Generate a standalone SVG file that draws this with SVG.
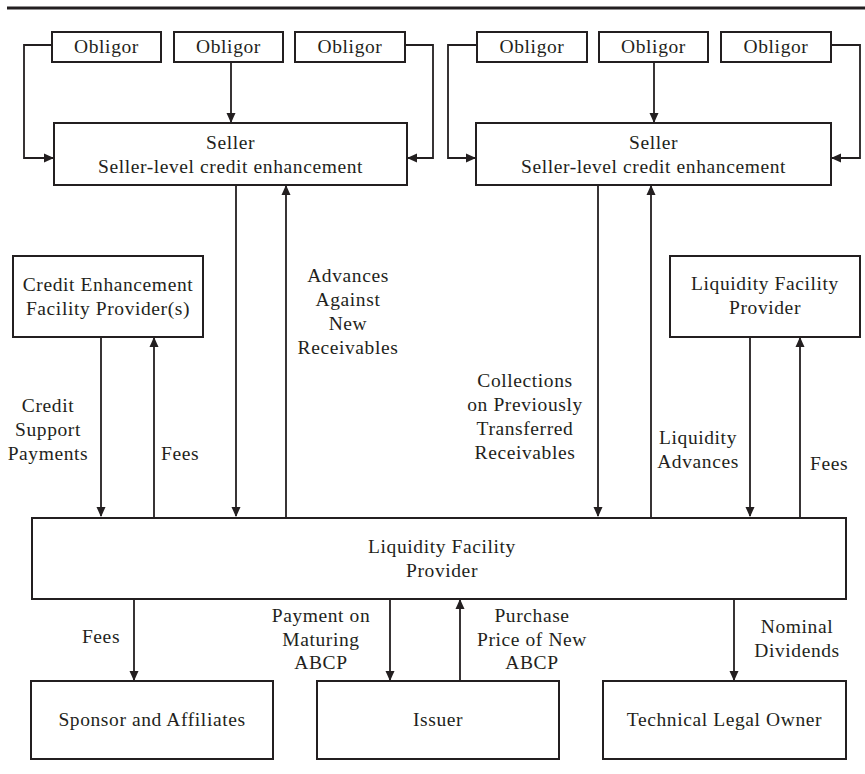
<svg xmlns="http://www.w3.org/2000/svg" width="865" height="774" viewBox="0 0 865 774">
<style>
.box{fill:#fff;stroke:#231f20;stroke-width:2}
.ln{fill:none;stroke:#231f20;stroke-width:1.8}
text{font-family:"Liberation Serif","DejaVu Serif",serif;font-size:19.5px;letter-spacing:0.6px;fill:#231f20;text-anchor:middle}
.l{text-anchor:start}
</style>
<defs>
<marker id="ah" markerWidth="10" markerHeight="10" refX="9" refY="5" orient="auto" markerUnits="userSpaceOnUse">
<path d="M0,0.5 L10,5 L0,9.5 Z" fill="#231f20"/>
</marker>
</defs>
<line x1="7" y1="8" x2="865" y2="8" stroke="#231f20" stroke-width="3"/>
<g id="connectors">
<path class="ln" d="M52,45 H24 V158 H53" marker-end="url(#ah)"/>
<path class="ln" d="M405,45 H433 V158 H408" marker-end="url(#ah)"/>
<path class="ln" d="M231,62 V122" marker-end="url(#ah)"/>
<path class="ln" d="M477,45 H448 V158 H475" marker-end="url(#ah)"/>
<path class="ln" d="M831,45 H860 V158 H832" marker-end="url(#ah)"/>
<path class="ln" d="M654,62 V122" marker-end="url(#ah)"/>
<path class="ln" d="M236,185 V516" marker-end="url(#ah)"/>
<path class="ln" d="M286,518 V186" marker-end="url(#ah)"/>
<path class="ln" d="M101,337 V516" marker-end="url(#ah)"/>
<path class="ln" d="M154,518 V338" marker-end="url(#ah)"/>
<path class="ln" d="M598,185 V516" marker-end="url(#ah)"/>
<path class="ln" d="M651,518 V186" marker-end="url(#ah)"/>
<path class="ln" d="M750,337 V516" marker-end="url(#ah)"/>
<path class="ln" d="M800,518 V338" marker-end="url(#ah)"/>
<path class="ln" d="M134,599 V680" marker-end="url(#ah)"/>
<path class="ln" d="M390,599 V680" marker-end="url(#ah)"/>
<path class="ln" d="M460,681 V600" marker-end="url(#ah)"/>
<path class="ln" d="M734,599 V680" marker-end="url(#ah)"/>
</g>
<g id="labels">
<text x="348" y="282">Advances</text>
<text x="348" y="306">Against</text>
<text x="348" y="330">New</text>
<text x="348" y="354">Receivables</text>
<text x="48" y="412">Credit</text>
<text x="48" y="436">Support</text>
<text x="48" y="460">Payments</text>
<text class="l" x="161" y="460">Fees</text>
<text x="525" y="387">Collections</text>
<text x="525" y="411">on Previously</text>
<text x="525" y="435">Transferred</text>
<text x="525" y="459">Receivables</text>
<text x="698" y="444">Liquidity</text>
<text x="698" y="468">Advances</text>
<text class="l" x="810" y="470">Fees</text>
<text x="101" y="643">Fees</text>
<text x="321" y="622">Payment on</text>
<text x="321" y="646">Maturing</text>
<text x="321" y="669">ABCP</text>
<text x="532" y="622">Purchase</text>
<text x="532" y="646">Price of New</text>
<text x="532" y="669">ABCP</text>
<text x="797" y="633">Nominal</text>
<text x="797" y="657">Dividends</text>
</g>
<g id="obligor-l1"><rect class="box" x="52" y="32" width="109" height="30"/><text x="106.5" y="53">Obligor</text></g>
<g id="obligor-l2"><rect class="box" x="174" y="32" width="109" height="30"/><text x="228.5" y="53">Obligor</text></g>
<g id="obligor-l3"><rect class="box" x="295" y="32" width="110" height="30"/><text x="350" y="53">Obligor</text></g>
<g id="obligor-r1"><rect class="box" x="477" y="32" width="110" height="30"/><text x="532" y="53">Obligor</text></g>
<g id="obligor-r2"><rect class="box" x="599" y="32" width="109" height="30"/><text x="653.5" y="53">Obligor</text></g>
<g id="obligor-r3"><rect class="box" x="721" y="32" width="110" height="30"/><text x="776" y="53">Obligor</text></g>
<g id="seller-l"><rect class="box" x="54" y="123" width="353" height="62"/><text x="230.5" y="149">Seller</text><text x="230.5" y="173">Seller-level credit enhancement</text></g>
<g id="seller-r"><rect class="box" x="476" y="123" width="355" height="62"/><text x="653.5" y="149">Seller</text><text x="653.5" y="173">Seller-level credit enhancement</text></g>
<g id="cefp"><rect class="box" x="13" y="256" width="190" height="81"/><text x="108" y="291">Credit Enhancement</text><text x="108" y="315">Facility Provider(s)</text></g>
<g id="lfp-r"><rect class="box" x="670" y="256" width="190" height="81"/><text x="765" y="290">Liquidity Facility</text><text x="765" y="314">Provider</text></g>
<g id="lfp-main"><rect class="box" x="32" y="518" width="814" height="81"/><text x="442" y="553">Liquidity Facility</text><text x="442" y="577">Provider</text></g>
<g id="sponsor"><rect class="box" x="31" y="681" width="242" height="78"/><text x="152" y="726">Sponsor and Affiliates</text></g>
<g id="issuer"><rect class="box" x="317" y="681" width="242" height="78"/><text x="438" y="726">Issuer</text></g>
<g id="tlo"><rect class="box" x="603" y="681" width="243" height="78"/><text x="724.5" y="726">Technical Legal Owner</text></g>
</svg>
